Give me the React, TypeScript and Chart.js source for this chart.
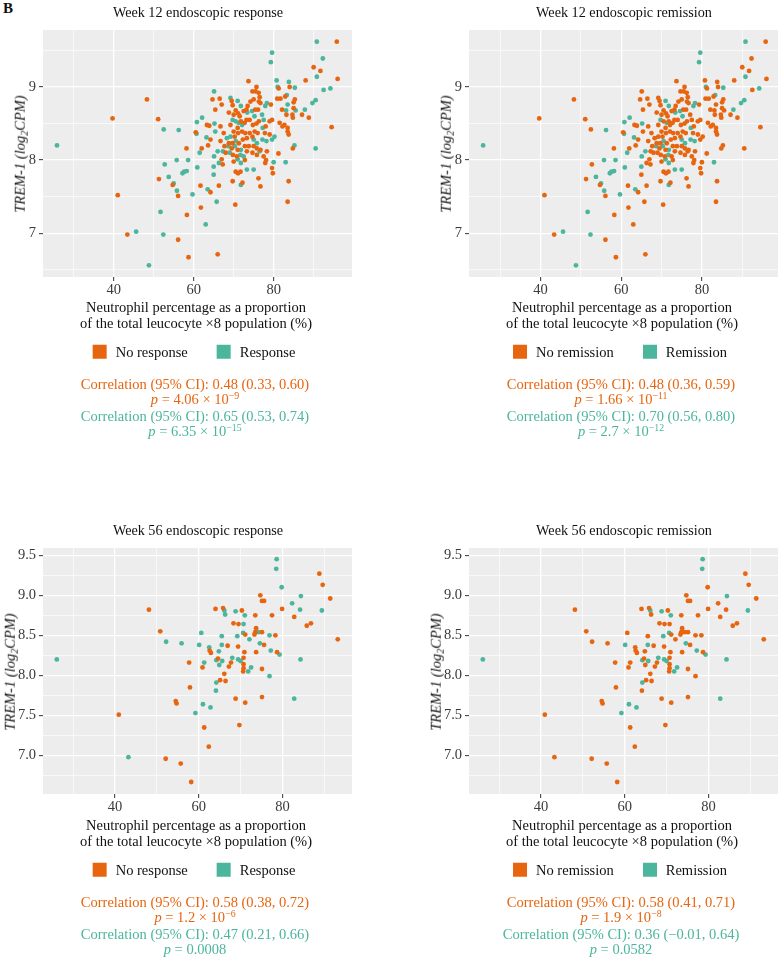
import React, { useEffect, useRef } from "react";
import { Chart, registerables } from "chart.js";

Chart.register(...registerables);

const ORANGE = "#E8650F";
const TEAL = "#4BB59D";
const SERIF = "'Liberation Serif', 'Times New Roman', serif";

// ---------------- Week 12 (same patients in both top panels) ----------------
const w12Neutrophil = [
  25.8, 39.7, 41.0, 43.4, 45.6, 48.3, 48.8, 51.1, 51.3, 51.7,
  52.4, 52.5, 52.75, 53.75, 54.75, 55.0, 55.75, 55.8, 56.1, 56.25,
  56.1, 57.2, 57.6, 58.25, 58.2, 58.3, 58.6, 58.7, 59.7, 60.5,
  60.7, 60.9, 61.5, 61.7, 61.8, 62.0, 62.1, 60.8, 63.0, 63.3,
  63.9, 63.2, 63.5, 64.2, 63.6, 64.2, 64.7, 65.1, 65.0, 65.0,
  65.1, 65.4, 65.4, 65.75, 66.0, 66.0, 66.3, 66.3, 66.5, 66.7,
  67.0, 67.0, 67.25, 66.7, 67.5, 67.7, 68.0, 67.3, 68.3, 65.2,
  69.2, 69.5, 69.75, 71.0, 71.8, 70.5, 71.1, 71.5, 70.0, 68.8,
  72.5, 73.2, 73.5, 73.7, 74.2, 69.75, 70.5, 71.25, 72.1, 69.2,
  70.0, 71.0, 71.8, 72.75, 73.2, 69.2, 70.25, 71.1, 72.1, 72.9,
  68.8, 69.7, 70.5, 71.3, 72.3, 73.3, 68.7, 69.5, 70.3, 71.0,
  71.8, 72.8, 69.0, 69.8, 70.8, 71.7, 72.5, 73.3, 70.0, 71.0,
  71.8, 72.8, 70.5, 71.1, 71.7, 69.75, 71.8, 72.2, 70.4, 73.3,
  73.4, 75.0, 74.7, 75.7, 75.5, 76.25, 76.5, 76.3, 76.7, 75.4,
  76.1, 74.6, 75.2, 74.0, 74.8, 75.7, 76.3, 77.1, 77.5, 77.9,
  78.3, 74.0, 74.7, 75.25, 76.0, 75.0, 75.8, 73.8, 75.0, 75.8,
  76.7, 77.2, 77.8, 78.2, 74.7, 75.8, 76.5, 75.0, 76.2, 76.7,
  78.1, 77.9, 77.5, 78.3, 78.0, 77.25, 79.6, 79.3, 80.75, 81.0,
  81.25, 81.7, 80.9, 79.3, 79.6, 79.0, 79.0, 79.6, 80.2, 80.0,
  79.6, 79.8, 81.2, 83.0, 81.5, 82.2, 82.7, 82.9, 83.3, 83.1,
  83.5, 83.5, 83.5, 83.75, 83.75, 83.5, 83.2, 82.1, 83.8, 84.0,
  85.0, 85.3, 85.0, 85.5, 85.3, 84.8, 84.7, 85.2, 84.8, 87.1,
  87.8, 88.8, 88.0, 89.7, 90.5, 90.0, 91.7, 90.8, 92.3, 90.8,
  90.5, 92.5, 94.2, 94.5, 95.8, 96.0,
];
const w12Trem1 = [
  8.20, 8.57, 7.52, 6.98, 7.02, 8.83, 6.56, 8.56, 7.74, 7.29,
  6.98, 8.42, 7.94, 7.77, 7.66, 7.68, 8.00, 7.58, 7.51, 8.41,
  6.91, 7.82, 7.84, 7.85, 8.16, 7.25, 8.00, 6.67, 7.53, 8.38,
  8.36, 7.90, 8.10, 7.65, 7.35, 8.16, 8.58, 8.52, 7.12, 8.48,
  8.47, 8.31, 7.60, 7.56, 8.20, 8.28, 8.83, 8.94, 7.80, 7.91,
  8.05, 8.69, 8.39, 7.43, 6.71, 8.12, 7.65, 7.96, 8.84, 8.46,
  8.76, 8.01, 7.94, 8.26, 8.37, 8.19, 8.10, 8.12, 8.30, 8.50,
  8.85, 8.81, 8.75, 8.81, 8.74, 8.68, 8.64, 8.60, 8.62, 8.65,
  8.67, 8.69, 8.74, 9.08, 8.80, 8.55, 8.53, 8.51, 8.48, 8.48,
  8.39, 8.44, 8.53, 8.51, 8.55, 8.32, 8.32, 8.37, 8.39, 8.37,
  8.23, 8.23, 8.26, 8.23, 8.28, 8.30, 8.19, 8.16, 8.19, 8.14,
  8.14, 8.19, 8.10, 8.07, 8.05, 8.07, 8.05, 8.12, 7.98, 8.01,
  7.96, 8.00, 7.84, 7.82, 7.84, 7.71, 7.66, 7.69, 7.39, 7.87,
  8.65, 8.83, 8.94, 9.00, 8.94, 8.92, 8.86, 8.80, 8.78, 8.69,
  8.69, 8.67, 8.60, 8.55, 8.48, 8.50, 8.53, 8.62, 8.55, 8.74,
  8.78, 8.37, 8.32, 8.39, 8.37, 8.28, 8.23, 8.19, 8.19, 8.16,
  8.14, 8.28, 8.37, 8.26, 8.10, 8.07, 8.12, 7.87, 7.75, 7.64,
  8.00, 7.96, 8.05, 8.12, 8.46, 8.44, 9.47, 9.34, 9.09, 9.00,
  8.98, 8.84, 8.84, 8.76, 8.55, 8.53, 8.35, 8.28, 8.32, 7.97,
  7.89, 7.82, 8.09, 7.97, 8.51, 8.46, 8.48, 8.87, 8.89, 8.68,
  8.76, 8.44, 8.39, 8.35, 7.71, 7.43, 8.62, 8.69, 9.07, 9.00,
  8.79, 8.83, 8.71, 8.68, 8.99, 8.58, 8.62, 8.20, 8.16, 8.62,
  8.69, 8.58, 9.09, 8.78, 8.82, 9.27, 9.22, 9.14, 9.39, 9.62,
  8.16, 8.96, 8.98, 8.45, 9.62, 9.11,
];
// 1 = endoscopic response at week 12
const w12Response = [
  1, 0, 0, 0, 1, 0, 1, 0, 0, 1,
  1, 1, 1, 1, 0, 1, 1, 1, 0, 1,
  0, 1, 1, 1, 0, 0, 1, 0, 1, 0,
  1, 1, 1, 0, 0, 0, 1, 1, 1, 0,
  0, 1, 1, 0, 0, 0, 0, 1, 1, 1,
  1, 0, 1, 1, 0, 1, 0, 1, 0, 0,
  0, 0, 0, 0, 0, 0, 0, 1, 1, 1,
  1, 0, 0, 1, 1, 0, 0, 0, 0, 0,
  0, 0, 0, 0, 0, 1, 1, 1, 1, 0,
  0, 0, 0, 0, 0, 1, 0, 0, 0, 0,
  0, 0, 1, 0, 0, 0, 1, 0, 1, 0,
  1, 0, 1, 0, 0, 1, 1, 0, 0, 1,
  1, 0, 0, 0, 0, 0, 1, 0, 0, 1,
  1, 0, 0, 0, 0, 0, 0, 0, 0, 0,
  0, 1, 1, 0, 0, 0, 0, 1, 1, 1,
  1, 0, 0, 0, 0, 1, 1, 0, 0, 0,
  0, 1, 0, 1, 0, 0, 1, 1, 0, 0,
  0, 0, 0, 0, 0, 1, 1, 1, 1, 1,
  0, 0, 0, 0, 0, 0, 0, 1, 1, 1,
  0, 0, 0, 1, 0, 0, 0, 0, 1, 1,
  1, 0, 0, 0, 0, 0, 0, 0, 1, 0,
  0, 0, 0, 1, 1, 0, 0, 1, 0, 0,
  1, 0, 0, 1, 1, 0, 0, 1, 1, 1,
  1, 1, 1, 0, 0, 0,
];
// 1 = endoscopic remission at week 12
const w12Remission = [
  1, 0, 0, 0, 1, 0, 1, 0, 0, 1,
  1, 0, 0, 1, 0, 1, 1, 1, 0, 1,
  0, 1, 1, 1, 0, 0, 1, 0, 1, 0,
  1, 1, 1, 0, 0, 0, 1, 1, 0, 0,
  0, 1, 1, 0, 0, 0, 0, 0, 0, 1,
  1, 0, 0, 0, 0, 1, 0, 0, 0, 0,
  0, 0, 0, 0, 0, 0, 0, 0, 0, 1,
  0, 0, 0, 1, 1, 0, 0, 0, 0, 0,
  0, 0, 0, 0, 0, 1, 0, 1, 0, 0,
  0, 0, 0, 0, 0, 0, 0, 0, 0, 0,
  0, 0, 1, 0, 0, 0, 1, 0, 1, 0,
  1, 0, 0, 0, 0, 1, 0, 0, 0, 1,
  1, 0, 0, 0, 0, 0, 1, 0, 0, 1,
  1, 0, 0, 0, 0, 0, 0, 0, 0, 0,
  0, 1, 1, 0, 0, 0, 0, 0, 0, 1,
  1, 0, 0, 0, 0, 1, 1, 0, 0, 0,
  0, 1, 0, 1, 0, 0, 0, 1, 0, 0,
  0, 0, 0, 0, 0, 1, 1, 1, 0, 1,
  0, 0, 0, 0, 0, 0, 0, 0, 0, 0,
  0, 0, 0, 1, 0, 0, 0, 0, 1, 0,
  0, 0, 0, 0, 0, 0, 0, 0, 0, 0,
  0, 0, 0, 0, 1, 0, 0, 0, 0, 0,
  1, 0, 0, 1, 1, 0, 0, 1, 0, 1,
  0, 0, 1, 0, 0, 0,
];

// ---------------- Week 56 (same patients in both bottom panels) ----------------
const w56Neutrophil = [
  26.1, 40.9, 43.2, 48.1, 50.8, 52.1, 52.2, 54.5, 54.7, 55.7,
  55.9, 57.7, 57.9, 58.2, 59.2, 60.1, 60.6, 60.9, 61.0, 61.3,
  61.3, 62.4, 62.5, 62.6, 62.8, 62.9, 64.0, 64.1, 64.2, 64.2,
  64.6, 64.8, 64.9, 65.1, 65.5, 65.5, 65.6, 65.8, 66.1, 66.3,
  66.1, 66.4, 66.9, 67.2, 67.7, 68.0, 68.3, 68.8, 68.8, 69.2,
  69.4, 69.4, 69.5, 69.7, 70.0, 70.3, 70.6, 70.7, 70.7, 70.7,
  70.7, 70.6, 70.9, 71.0, 71.1, 71.1, 71.8, 72.1, 72.5, 73.3,
  73.5, 73.5, 73.7, 73.7, 74.3, 74.6, 74.7, 75.1, 75.1, 75.1,
  75.1, 75.6, 75.6, 76.9, 76.9, 77.2, 77.5, 78.3, 78.5, 78.6,
  78.7, 79.3, 79.8, 79.9, 82.3, 82.8, 82.8, 84.3, 84.4, 84.2,
  85.8, 86.8, 88.8, 89.6, 89.4, 91.4, 93.2,
];
const w56Trem1 = [
  8.20, 7.51, 6.98, 8.82, 8.55, 6.96, 8.42, 7.68, 7.65, 6.90,
  8.40, 8.16, 7.85, 6.67, 7.53, 8.38, 8.53, 8.10, 7.64, 8.16,
  7.35, 7.11, 8.35, 8.31, 7.60, 8.28, 8.83, 7.81, 7.91, 8.19,
  8.21, 8.30, 8.13, 7.94, 8.49, 8.38, 8.18, 8.84, 8.81, 8.76,
  8.02, 7.93, 8.37, 8.11, 8.16, 8.22, 8.65, 7.71, 8.80, 8.49,
  8.20, 8.36, 8.64, 7.38, 8.18, 8.81, 8.53, 8.64, 8.22, 8.14,
  8.09, 8.05, 8.29, 8.75, 7.66, 8.51, 8.05, 8.45, 8.10, 8.51,
  8.54, 8.75, 8.59, 8.29, 8.54, 8.40, 9.00, 8.93, 8.54, 8.08,
  7.73, 8.38, 8.93, 8.50, 7.99, 8.31, 8.75, 8.50, 9.33, 9.45,
  8.29, 8.26, 9.10, 8.83, 8.90, 8.73, 7.71, 8.20, 8.99, 8.82,
  8.62, 8.65, 9.27, 9.13, 8.81, 8.96, 8.45,
];
const w56Response = [
  1, 0, 1, 0, 0, 0, 1, 0, 0, 0,
  1, 0, 0, 0, 1, 1, 1, 0, 1, 1,
  0, 0, 1, 0, 1, 0, 0, 1, 1, 1,
  0, 1, 1, 0, 1, 1, 1, 0, 1, 1,
  0, 0, 0, 0, 0, 1, 0, 0, 1, 1,
  1, 0, 0, 0, 1, 0, 1, 1, 0, 0,
  0, 0, 0, 1, 0, 0, 1, 1, 1, 0,
  0, 0, 0, 0, 1, 1, 0, 0, 0, 0,
  0, 0, 0, 1, 1, 1, 0, 0, 1, 1,
  0, 1, 1, 0, 1, 0, 1, 1, 1, 1,
  0, 0, 0, 0, 1, 0, 0,
];
const w56Remission = [
  1, 0, 0, 0, 0, 0, 0, 0, 0, 0,
  0, 0, 0, 0, 1, 1, 0, 0, 1, 0,
  0, 0, 0, 0, 1, 0, 0, 0, 1, 1,
  0, 0, 0, 0, 0, 1, 1, 0, 1, 0,
  0, 0, 0, 0, 0, 1, 0, 0, 1, 1,
  1, 0, 0, 0, 1, 0, 1, 0, 0, 0,
  0, 0, 0, 1, 0, 0, 1, 0, 1, 0,
  0, 0, 0, 0, 0, 1, 0, 0, 0, 0,
  0, 0, 0, 0, 0, 1, 0, 0, 1, 1,
  0, 1, 0, 0, 0, 0, 1, 1, 1, 0,
  0, 0, 0, 0, 1, 0, 0,
];

// ---------------- Axis ticks ----------------
const xMajorTicks = [40, 60, 80];
const xMinorTicks = [30, 50, 70, 90];
const w12YMajor = [7, 8, 9];
const w12YMinor = [6.5, 7.5, 8.5, 9.5];
const w56YMajor = [7.0, 7.5, 8.0, 8.5, 9.0, 9.5];
const w56YMinor = [6.75, 7.25, 7.75, 8.25, 8.75, 9.25];

const panelBg = {
  id: "panelBg",
  beforeDraw(chart: any) {
    const { ctx, chartArea: a } = chart;
    ctx.save();
    ctx.fillStyle = "#EDEDED";
    ctx.fillRect(a.left, a.top, a.right - a.left, a.bottom - a.top);
    ctx.restore();
  },
};

type PanelProps = {
  left: number;
  top: number;
  xs: number[];
  ys: number[];
  group: number[];
  xMin: number;
  xMax: number;
  yMin: number;
  yMax: number;
  yMajor: number[];
  yMinor: number[];
  yDigits: number;
  padRight: number;
  xAxisHeight: number;
};

function ScatterPanel(p: PanelProps) {
  const ref = useRef<HTMLCanvasElement | null>(null);
  useEffect(() => {
    if (!ref.current) return;
    const noPts: { x: number; y: number }[] = [];
    const yesPts: { x: number; y: number }[] = [];
    p.xs.forEach((x, i) => (p.group[i] ? yesPts : noPts).push({ x, y: p.ys[i] }));
    const near = (arr: number[], v: number) => arr.some((a) => Math.abs(a - v) < 1e-6);
    const tickFont = { family: SERIF, size: 14.5 };
    const chart = new Chart(ref.current, {
      type: "scatter",
      data: {
        datasets: [
          {
            data: noPts,
            backgroundColor: ORANGE,
            borderColor: ORANGE,
            pointBackgroundColor: ORANGE,
            pointBorderWidth: 0,
            pointRadius: 2.4,
            pointHoverRadius: 2.4,
          },
          {
            data: yesPts,
            backgroundColor: TEAL,
            borderColor: TEAL,
            pointBackgroundColor: TEAL,
            pointBorderWidth: 0,
            pointRadius: 2.4,
            pointHoverRadius: 2.4,
          },
        ],
      },
      options: {
        responsive: false,
        maintainAspectRatio: false,
        animation: false,
        events: [],
        layout: { padding: { top: 30, right: p.padRight, left: 0, bottom: 0 } },
        plugins: {
          legend: { display: false },
          tooltip: { enabled: false },
          title: { display: false },
        },
        scales: {
          x: {
            type: "linear",
            min: p.xMin,
            max: p.xMax,
            afterBuildTicks: (s: any) => {
              s.ticks = [...xMinorTicks, ...xMajorTicks].sort((a, b) => a - b).map((v) => ({ value: v }));
            },
            afterFit: (s: any) => {
              s.height = p.xAxisHeight;
            },
            border: { display: false },
            grid: {
              color: "#FFFFFF",
              lineWidth: (c: any) => (c.tick && near(xMajorTicks, c.tick.value) ? 1.3 : 0.6),
              tickColor: (c: any) => (c.tick && near(xMajorTicks, c.tick.value) ? "#333333" : "rgba(0,0,0,0)"),
              tickWidth: 1,
              tickLength: 4,
              drawTicks: true,
            },
            ticks: {
              autoSkip: false,
              maxRotation: 0,
              padding: 0,
              color: "#3A3A3A",
              font: tickFont,
              callback: (v: any) => (near(xMajorTicks, Number(v)) ? String(v) : ""),
            },
          },
          y: {
            type: "linear",
            min: p.yMin,
            max: p.yMax,
            afterBuildTicks: (s: any) => {
              s.ticks = [...p.yMinor, ...p.yMajor].sort((a, b) => a - b).map((v) => ({ value: v }));
            },
            afterFit: (s: any) => {
              s.width = 43;
            },
            border: { display: false },
            grid: {
              color: "#FFFFFF",
              lineWidth: (c: any) => (c.tick && near(p.yMajor, c.tick.value) ? 1.3 : 0.6),
              tickColor: (c: any) => (c.tick && near(p.yMajor, c.tick.value) ? "#333333" : "rgba(0,0,0,0)"),
              tickWidth: 1,
              tickLength: 4,
              drawTicks: true,
            },
            ticks: {
              autoSkip: false,
              padding: 3,
              color: "#3A3A3A",
              font: tickFont,
              callback: (v: any) => (near(p.yMajor, Number(v)) ? Number(v).toFixed(p.yDigits) : ""),
            },
          },
        },
      },
      plugins: [panelBg],
    } as any);
    return () => chart.destroy();
  }, []);
  return (
    <canvas
      ref={ref}
      width={360}
      height={300}
      style={{ position: "absolute", left: p.left, top: p.top, width: 360, height: 300 }}
    />
  );
}

function T(props: { x: number; y: number; size?: number; color?: string; style?: any; children: any }) {
  return (
    <div
      style={{
        position: "absolute",
        left: props.x,
        top: props.y,
        transform: "translate(-50%,-50%)",
        whiteSpace: "nowrap",
        fontFamily: SERIF,
        fontSize: props.size ?? 14.5,
        color: props.color ?? "#111",
        lineHeight: 1,
        ...(props.style || {}),
      }}
    >
      {props.children}
    </div>
  );
}

const supStyle = { fontSize: "0.68em", verticalAlign: "0.5em", lineHeight: 0 };

function PValue({ mant, exp, plain }: { mant?: string; exp?: string; plain?: string }) {
  if (plain) {
    return (
      <span>
        <i>p</i> = {plain}
      </span>
    );
  }
  return (
    <span>
      <i>p</i> = {mant} × 10<sup style={supStyle}>{exp}</sup>
    </span>
  );
}

type TextProps = {
  dx: number;
  dy: number;
  title: string;
  yTitleX: number;
  noLabel: string;
  yesLabel: string;
  corrNo: string;
  pNo: any;
  corrYes: string;
  pYes: any;
};

function PanelText(t: TextProps) {
  const cx = 195 + t.dx;
  return (
    <>
      <T x={198 + t.dx} y={12 + t.dy} size={14.2}>
        {t.title}
      </T>
      <T
        x={t.yTitleX + t.dx}
        y={154 + t.dy}
        style={{ transform: "translate(-50%,-50%) rotate(-90deg)", fontStyle: "italic" }}
      >
        TREM-1 (log<sub style={{ fontSize: "0.7em", verticalAlign: "-0.3em", lineHeight: 0 }}>2</sub>CPM)
      </T>
      <T x={cx + 1} y={307 + t.dy}>
        Neutrophil percentage as a proportion
      </T>
      <T x={cx + 1} y={323 + t.dy}>
        of the total leucocyte ×8 population (%)
      </T>
      <div
        style={{
          position: "absolute",
          left: cx - 1,
          top: 352 + t.dy,
          transform: "translate(-50%,-50%)",
          display: "flex",
          alignItems: "center",
          whiteSpace: "nowrap",
          fontFamily: SERIF,
          fontSize: 14.5,
          color: "#111",
          lineHeight: 1,
        }}
      >
        <span style={{ display: "inline-block", width: 14, height: 14, background: ORANGE, marginRight: 9 }} />
        <span>{t.noLabel}</span>
        <span
          style={{ display: "inline-block", width: 14, height: 14, background: TEAL, marginLeft: 29, marginRight: 9 }}
        />
        <span>{t.yesLabel}</span>
      </div>
      <T x={cx} y={384 + t.dy} color={ORANGE}>
        {t.corrNo}
      </T>
      <T x={cx} y={399 + t.dy} color={ORANGE}>
        {t.pNo}
      </T>
      <T x={cx} y={416 + t.dy} color={TEAL}>
        {t.corrYes}
      </T>
      <T x={cx} y={431 + t.dy} color={TEAL}>
        {t.pYes}
      </T>
    </>
  );
}

export default function App() {
  return (
    <div
      style={{
        position: "absolute",
        left: 0,
        top: 0,
        width: 778,
        height: 957,
        overflow: "hidden",
        background: "#FFFFFF",
      }}
    >
      <T x={8} y={8} size={15} style={{ fontWeight: "bold" }}>
        B
      </T>

      <ScatterPanel
        left={0}
        top={0}
        xs={w12Neutrophil}
        ys={w12Trem1}
        group={w12Response}
        xMin={22.3}
        xMax={99.6}
        yMin={6.4}
        yMax={9.78}
        yMajor={w12YMajor}
        yMinor={w12YMinor}
        yDigits={0}
        padRight={8}
        xAxisHeight={23}
      />
      <ScatterPanel
        left={426}
        top={0}
        xs={w12Neutrophil}
        ys={w12Trem1}
        group={w12Remission}
        xMin={22.3}
        xMax={99.6}
        yMin={6.4}
        yMax={9.78}
        yMajor={w12YMajor}
        yMinor={w12YMinor}
        yDigits={0}
        padRight={5}
        xAxisHeight={23}
      />
      <ScatterPanel
        left={0}
        top={518}
        xs={w56Neutrophil}
        ys={w56Trem1}
        group={w56Response}
        xMin={22.8}
        xMax={96.6}
        yMin={6.52}
        yMax={9.59}
        yMajor={w56YMajor}
        yMinor={w56YMinor}
        yDigits={1}
        padRight={8}
        xAxisHeight={24}
      />
      <ScatterPanel
        left={426}
        top={518}
        xs={w56Neutrophil}
        ys={w56Trem1}
        group={w56Remission}
        xMin={22.8}
        xMax={96.6}
        yMin={6.52}
        yMax={9.59}
        yMajor={w56YMajor}
        yMinor={w56YMinor}
        yDigits={1}
        padRight={8}
        xAxisHeight={24}
      />

      <PanelText
        dx={0}
        dy={0}
        title="Week 12 endoscopic response"
        yTitleX={20}
        noLabel="No response"
        yesLabel="Response"
        corrNo="Correlation (95% CI): 0.48 (0.33, 0.60)"
        pNo={<PValue mant="4.06" exp="−9" />}
        corrYes="Correlation (95% CI): 0.65 (0.53, 0.74)"
        pYes={<PValue mant="6.35" exp="−15" />}
      />
      <PanelText
        dx={426}
        dy={0}
        title="Week 12 endoscopic remission"
        yTitleX={20}
        noLabel="No remission"
        yesLabel="Remission"
        corrNo="Correlation (95% CI): 0.48 (0.36, 0.59)"
        pNo={<PValue mant="1.66" exp="−11" />}
        corrYes="Correlation (95% CI): 0.70 (0.56, 0.80)"
        pYes={<PValue mant="2.7" exp="−12" />}
      />
      <PanelText
        dx={0}
        dy={518}
        title="Week 56 endoscopic response"
        yTitleX={10}
        noLabel="No response"
        yesLabel="Response"
        corrNo="Correlation (95% CI): 0.58 (0.38, 0.72)"
        pNo={<PValue mant="1.2" exp="−6" />}
        corrYes="Correlation (95% CI): 0.47 (0.21, 0.66)"
        pYes={<PValue plain="0.0008" />}
      />
      <PanelText
        dx={426}
        dy={518}
        title="Week 56 endoscopic remission"
        yTitleX={10}
        noLabel="No remission"
        yesLabel="Remission"
        corrNo="Correlation (95% CI): 0.58 (0.41, 0.71)"
        pNo={<PValue mant="1.9" exp="−8" />}
        corrYes="Correlation (95% CI): 0.36 (−0.01, 0.64)"
        pYes={<PValue plain="0.0582" />}
      />
    </div>
  );
}
